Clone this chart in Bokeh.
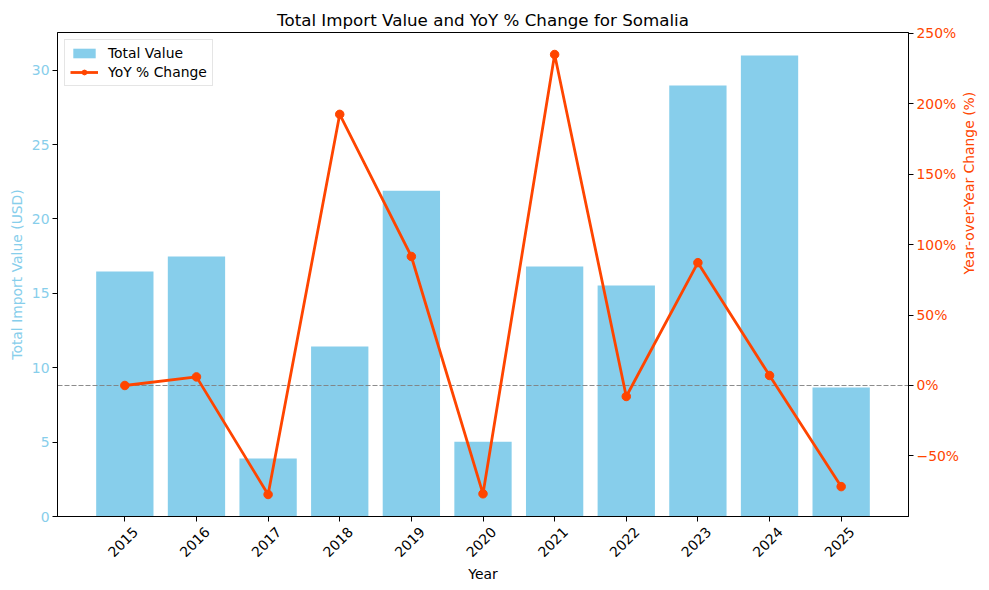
import math
from bokeh.plotting import figure
from bokeh.models import (ColumnDataSource, Range1d, LinearAxis, FixedTicker,
                          SingleIntervalTicker, CustomJSTickFormatter, Legend, LegendItem)
from bokeh.embed import file_html
from bokeh.resources import INLINE

years = [2015, 2016, 2017, 2018, 2019, 2020, 2021, 2022, 2023, 2024, 2025]
total_value = [16.46, 17.47, 3.90, 11.42, 21.90, 5.02, 16.80, 15.52, 28.96, 30.98, 8.67]
yoy_change = [0.0, 6.1, -77.4, 192.5, 91.6, -76.9, 235.0, -7.8, 87.2, 7.1, -71.8]
zero_line = 0

SKY = "#87CEEB"
RED = "#FF4500"
FONT = "DejaVu Sans"

# matplotlib-like autoscale: 5% margins
bar_w = 0.8
x_lo = years[0] - bar_w / 2
x_hi = years[-1] + bar_w / 2
x_pad = (x_hi - x_lo) * 0.05
y_hi = max(total_value) * 1.05
r_lo, r_hi = min(yoy_change), max(yoy_change)
r_pad = (r_hi - r_lo) * 0.05

# bokeh anchors rotated labels at their end; shift them so they sit centred on the tick
label_shift = 0.15

source = ColumnDataSource(dict(year=years, total=total_value, yoy=yoy_change))

p = figure(
    width=989, height=590,
    x_range=Range1d(x_lo - x_pad, x_hi + x_pad),
    y_range=Range1d(0, y_hi),
    title="Total Import Value and YoY % Change for Somalia",
    output_backend="svg", toolbar_location=None,
    min_border_left=57, min_border_right=81, min_border_top=32, min_border_bottom=74,
)
p.extra_y_ranges = {"yoy": Range1d(r_lo - r_pad, r_hi + r_pad)}
p.extra_x_ranges = {"lbl": Range1d(x_lo - x_pad - label_shift, x_hi + x_pad - label_shift)}

p.title.align = "center"
p.title.text_font = FONT
p.title.text_font_size = "16.7px"
p.title.text_font_style = "normal"
p.title.text_color = "black"
p.title.standoff = 6

p.xgrid.visible = False
p.ygrid.visible = False
p.outline_line_color = "black"
p.outline_line_alpha = 1

bars = p.vbar(x="year", top="total", width=bar_w, source=source,
              fill_color=SKY, line_color=None)
p.hspan(y=[zero_line], y_range_name="yoy", line_color="gray", line_width=1,
        line_dash="5 2", line_alpha=0.9)
line = p.line(x="year", y="yoy", source=source, y_range_name="yoy",
              line_color=RED, line_width=2.8)
dots = p.scatter(x="year", y="yoy", source=source, y_range_name="yoy",
                 size=8.5, fill_color=RED, line_color=RED)

# x axis: ticks only
xa = p.xaxis[0]
xa.ticker = FixedTicker(ticks=years)
xa.major_label_overrides = {y: "" for y in years}

# second x axis carrying the rotated year labels
xl = LinearAxis(x_range_name="lbl", axis_label="Year")
xl.ticker = FixedTicker(ticks=years)
xl.major_label_orientation = math.pi / 4
xl.major_label_text_color = "black"
xl.axis_label_text_color = "black"
xl.axis_line_color = None
xl.major_tick_line_color = None
p.add_layout(xl, "below")

# left axis
ya = p.yaxis[0]
ya.ticker = SingleIntervalTicker(interval=5, num_minor_ticks=0)
ya.axis_label = "Total Import Value (USD)"
ya.axis_label_text_color = SKY
ya.major_label_text_color = SKY

# right axis
ra = LinearAxis(y_range_name="yoy", axis_label="Year-over-Year Change (%)")
ra.ticker = SingleIntervalTicker(interval=50, num_minor_ticks=0)
ra.formatter = CustomJSTickFormatter(
    code="return (tick < 0 ? '\\u2212' + (-tick) : '' + tick) + '%';")
ra.axis_label_text_color = RED
ra.major_label_text_color = RED
ra.axis_label_orientation = math.pi / 2
p.add_layout(ra, "right")

for ax in (xa, xl, ya, ra):
    ax.major_label_text_font = FONT
    ax.major_label_text_font_size = "13.9px"
    ax.axis_label_text_font = FONT
    ax.axis_label_text_font_size = "13.9px"
    ax.axis_label_text_font_style = "normal"
    ax.major_tick_in = 0
    ax.major_tick_out = 5
    ax.minor_tick_line_color = None
    ax.major_label_standoff = 3
    ax.axis_label_standoff = 4

for ax in (xa, ya, ra):
    ax.axis_line_color = "black"
    ax.major_tick_line_color = "black"

xa.major_label_standoff = 0
xl.major_tick_out = 0
xl.major_label_standoff = 8
xl.axis_label_standoff = 1
ra.axis_label_standoff = 7

legend = Legend(items=[
    LegendItem(label="Total Value", renderers=[bars]),
    LegendItem(label="YoY % Change", renderers=[line, dots]),
], location="top_left")
legend.margin = 7
legend.padding = 5
legend.spacing = 3
legend.glyph_width = 28
legend.glyph_height = 12
legend.label_height = 14
legend.label_standoff = 10
legend.label_text_font = FONT
legend.label_text_font_size = "13.9px"
legend.label_text_color = "black"
legend.border_line_color = "#cccccc"
legend.border_line_width = 1
legend.background_fill_alpha = 0.8
p.add_layout(legend)

open("out.html", "w").write(file_html(p, INLINE))
